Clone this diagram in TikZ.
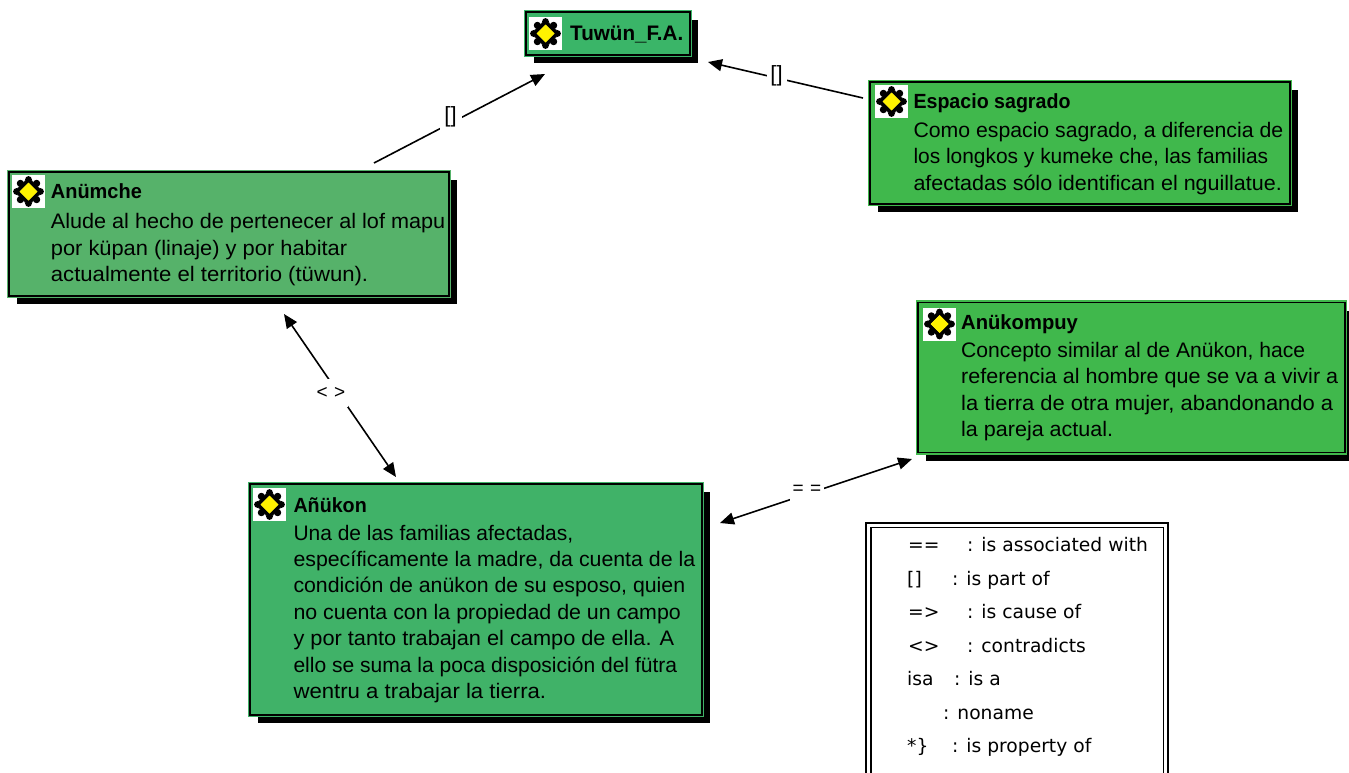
\documentclass[tikz,border=0pt]{standalone}
\usepackage{fontspec}
\usepackage{graphicx}
\setmainfont{Liberation Sans}
\newfontfamily\legfont{DejaVu Sans}
\usetikzlibrary{arrows.meta,shadows,calc}
\definecolor{tuwunC}{RGB}{58,181,104}
\definecolor{espC}{RGB}{64,184,76}
\definecolor{anumC}{RGB}{86,178,106}
\definecolor{kompC}{RGB}{64,184,76}
\definecolor{anukC}{RGB}{64,178,104}
\tikzset{
 box/.style={rectangle, inner sep=0pt, outer sep=0pt, anchor=north west, draw=black, line width=1.6pt,
   general shadow={fill=black, shadow xshift=8pt, shadow yshift=-8pt}},
 boxc/.style={fill=#1, preaction={draw=#1, line width=4.6pt}},
 ttl/.style={anchor=base west, inner sep=0pt, font=\fontsize{20.5}{24}\selectfont\bfseries},
 bodyline/.style={anchor=base west, inner sep=0pt, font=\fontsize{21}{26.6}\selectfont},
 conn/.style={line width=1.6pt, -{Triangle[length=14pt,width=12pt]}},
 conntwo/.style={line width=1.6pt, {Triangle[length=14pt,width=12pt]}-{Triangle[length=14pt,width=12pt]}},
 lbl/.style={fill=white, inner sep=0pt, font=\fontsize{19}{22}\selectfont},
 leg/.style={anchor=base west, inner sep=0pt, font=\legfont\fontsize{18.7}{22}\selectfont},
 icon/.pic={
   \fill[white] (0,0) rectangle (33,33);
   \fill[black!30] (16.5,1.5) -- (31.5,16.5) -- (16.5,31.5) -- (1.5,16.5) -- cycle;
   \foreach \a in {0,90,180,270} { \fill[black] ($(16.5,16.5)+(\a:12)$) circle (3.4); }
   \foreach \a in {45,135,225,315} { \fill[black] ($(16.5,16.5)+(\a:11.5)$) circle (3.6); }
   \draw[black, line width=3.6pt] (16.5,5) -- (28,16.5) -- (16.5,28) -- (5,16.5) -- cycle;
   \fill[yellow] (16.5,7.5) -- (25.5,16.5) -- (16.5,25.5) -- (7.5,16.5) -- cycle;
 }
}
\begin{document}
\begin{tikzpicture}[x=1pt,y=-1pt]
\useasboundingbox (0,0) rectangle (1349,772);
\fill[white] (0,0) rectangle (1349,772);

% boxes
\node[box, boxc=tuwunC, minimum width=164pt, minimum height=43pt] (tuwun) at (526,12) {};
\node[box, boxc=espC, minimum width=420pt, minimum height=122pt] (espacio) at (870,82) {};
\node[box, boxc=anumC, minimum width=440pt, minimum height=124pt] (anumche) at (9,172) {};
\node[box, boxc=kompC, minimum width=427pt, minimum height=150pt] (anukompuy) at (918,302.5) {};
\node[box, boxc=anukC, minimum width=452pt, minimum height=231pt] (anukon) at (250,484) {};

% icons
\pic at ([shift={(3,5)}]tuwun.north west) {icon};
\pic at ([shift={(5,3)}]espacio.north west) {icon};
\pic at ([shift={(3,3)}]anumche.north west) {icon};
\pic at ([shift={(5,5)}]anukompuy.north west) {icon};
\pic at ([shift={(3,4)}]anukon.north west) {icon};

% titles
\node[ttl, font=\fontsize{21}{24}\selectfont\bfseries] (tuwun-t) at ([shift={(44,28)}]tuwun.north west) {\resizebox{113pt}{\height}{Tuwün\_F.A.}};
\node[ttl] (espacio-t) at ([shift={(43.3,26)}]espacio.north west) {\resizebox{157pt}{\height}{Espacio sagrado}};
\node[ttl] (anumche-t) at ([shift={(41.7,26.3)}]anumche.north west) {\resizebox{91pt}{\height}{Anümche}};
\node[ttl] (anukompuy-t) at ([shift={(43,27)}]anukompuy.north west) {\resizebox{116.7pt}{\height}{Anükompuy}};
\node[ttl] (anukon-t) at ([shift={(43.3,28)}]anukon.north west) {\resizebox{73.3pt}{\height}{Añükon}};

% bodies
\foreach \w/\t [count=\i from 0] in {{369.7/Como espacio sagrado, a diferencia de},{354.7/los longkos y kumeke che, las familias},{368.4/afectadas sólo identifican el nguillatue.}}
  \node[bodyline] (espacio-\i) at ([shift={({43.3},{55+26.6*\i})}]espacio.north west) {\resizebox{\w pt}{\height}{\t}};
\foreach \w/\t [count=\i from 0] in {{394.3/Alude al hecho de pertenecer al lof mapu},{296.3/por küpan (linaje) y por habitar},{317.3/actualmente el territorio (tüwun).}}
  \node[bodyline] (anumche-\i) at ([shift={({41.7},{56.3+26.8*\i})}]anumche.north west) {\resizebox{\w pt}{\height}{\t}};
\foreach \w/\t [count=\i from 0] in {{344/Concepto similar al de Anükon, hace},{377/referencia al hombre que se va a vivir a},{372/la tierra de otra mujer, abandonando a},{152/la pareja actual.}}
  \node[bodyline] (anukompuy-\i) at ([shift={({43},{54.5+26.6*\i})}]anukompuy.north west) {\resizebox{\w pt}{\height}{\t}};
\foreach \w/\t [count=\i from 0] in {{279.7/Una de las familias afectadas,},{401.7/específicamente la madre, da cuenta de la},{391.7/condición de anükon de su esposo, quien},{387.4/no cuenta con la propiedad de un campo},{380.7/y por tanto trabajan el campo de ella. A},{383.7/ello se suma la poca disposición del fütra},{252.7/wentru a trabajar la tierra.}}
  \node[bodyline] (anukon-\i) at ([shift={({43.3},{56+26.4*\i})}]anukon.north west) {\resizebox{\w pt}{\height}{\t}};

% connectors
\draw[conn] ([shift={(365,-9)}]anumche.north west) -- ([shift={(19,19)}]tuwun.south west);
\draw[conn] ([shift={(-7,16)}]espacio.north west) -- ([shift={(18,7)}]tuwun.south east);
\draw[conntwo] ([shift={(275,18)}]anumche.south west) -- ([shift={(146,-7)}]anukon.north west);
\draw[conntwo] ([shift={(18,39)}]anukon.north east) -- ([shift={(-6,6.5)}]anukompuy.south west);

% connector labels
\node[lbl, font=\fontsize{22}{24}\selectfont, minimum width=22pt, minimum height=26pt] (l1) at (450.5,116.5) {[]};
\node[lbl, font=\fontsize{22}{24}\selectfont, minimum width=20pt, minimum height=26pt] (l2) at (776.5,75.5) {[]};
\node[lbl, minimum width=34pt, minimum height=28pt] (l3) at (331,393) {<\,\,>};
\node[lbl, minimum width=34pt, minimum height=22pt] (l4) at (807,490) {=\,\,=};

% legend
\draw[line width=2.3pt] (866.2,522.9) rectangle (1168,800);
\draw[line width=1.5pt] (870.9,527.4) rectangle (1163.4,800);
\node[leg] (s1) at (908,551) {==};   \node[leg] (d1) at (967,551) {: is associated with};
\node[leg] (s2) at (907,585) {[]};   \node[leg] (d2) at (952,585) {: is part of};
\node[leg] (s3) at (908,618) {=>};   \node[leg] (d3) at (967,618) {: is cause of};
\node[leg] (s4) at (908,652) {<>};   \node[leg] (d4) at (967,652) {: contradicts};
\node[leg] (s5) at (907,685.5) {isa};  \node[leg] (d5) at (954,685.5) {: is a};
\node[leg] (d6) at (943,719) {: noname};
\node[leg] (s7) at (907,752.5) {*\}};  \node[leg] (d7) at (952,752.5) {: is property of};
\end{tikzpicture}
\end{document}
